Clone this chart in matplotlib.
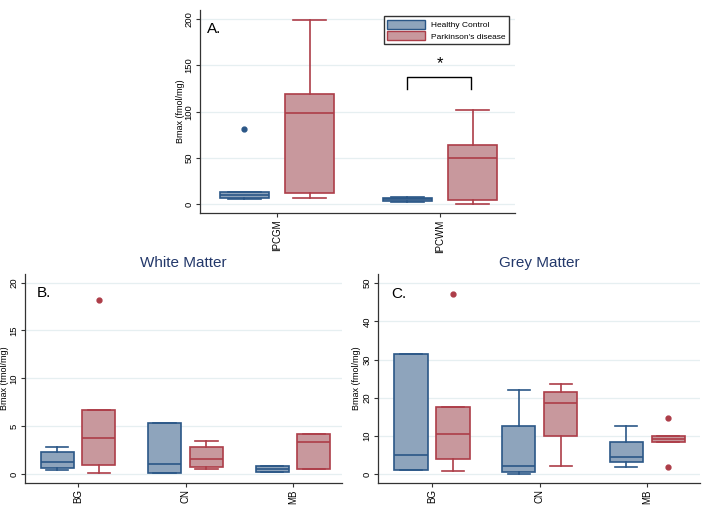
import matplotlib
matplotlib.use("Agg")
import matplotlib.pyplot as plt
from matplotlib.patches import Patch

plt.rcParams['font.family'] = ['Liberation Sans', 'DejaVu Sans']

# colours
hc_fill = '#8ea4bc'
hc_edge = '#2b5787'
pd_fill = '#c8989d'
pd_edge = '#ad3d48'
grid_c = '#e6eff1'

# panel A: IPC grey / white matter
a_cats = ['IPCGM', 'IPCWM']
a_hc_q1 = [6.8, 3.6]
a_hc_med = [9.7, 5.0]
a_hc_q3 = [13.3, 6.8]
a_hc_lo = [5.4, 1.8]
a_hc_hi = [13.3, 8.0]
a_hc_out = [[81], []]
a_pd_q1 = [12.3, 4.3]
a_pd_med = [98, 50]
a_pd_q3 = [119, 63.4]
a_pd_lo = [6.8, 0.4]
a_pd_hi = [199, 102]
a_pd_out = [[], []]

# panel B: white matter
b_cats = ['BG', 'CN', 'MB']
b_hc_q1 = [0.63, 0.14, 0.24]
b_hc_med = [1.22, 1.05, 0.52]
b_hc_q3 = [2.27, 5.3, 0.8]
b_hc_lo = [0.42, 0.14, 0.24]
b_hc_hi = [2.83, 5.3, 0.8]
b_hc_out = [[], [], []]
b_pd_q1 = [0.94, 0.77, 0.56]
b_pd_med = [3.73, 1.57, 3.35]
b_pd_q3 = [6.7, 2.8, 4.19]
b_pd_lo = [0.07, 0.56, 0.56]
b_pd_hi = [6.7, 3.5, 4.19]
b_pd_out = [[18.2], [], []]

# panel C: grey matter
c_cats = ['BG', 'CN', 'MB']
c_hc_q1 = [1.05, 0.44, 3.05]
c_hc_med = [5.0, 2.1, 4.4]
c_hc_q3 = [31.4, 12.6, 8.5]
c_hc_lo = [1.05, 0.0, 1.75]
c_hc_hi = [31.4, 22.0, 12.6]
c_hc_out = [[], [], []]
c_pd_q1 = [3.9, 9.9, 8.3]
c_pd_med = [10.5, 18.7, 9.25]
c_pd_q3 = [17.5, 21.5, 10.0]
c_pd_lo = [0.8, 2.0, 8.3]
c_pd_hi = [17.5, 23.5, 10.0]
c_pd_out = [[47.1], [], [14.7, 1.9]]


def stats(q1, med, q3, lo, hi, out):
    return [dict(q1=a, med=b, q3=c, whislo=d, whishi=e, fliers=f)
            for a, b, c, d, e, f in zip(q1, med, q3, lo, hi, out)]


def draw(ax, st, pos, fill, edge, w):
    ax.bxp(st, positions=pos, widths=w, capwidths=w * 0.67, patch_artist=True,
           boxprops=dict(facecolor=fill, edgecolor=edge, linewidth=1.2),
           medianprops=dict(color=edge, linewidth=1.2),
           whiskerprops=dict(color=edge, linewidth=1.2),
           capprops=dict(color=edge, linewidth=1.2),
           flierprops=dict(marker='o', markersize=3.5, markerfacecolor=edge,
                           markeredgecolor=edge))


def style(ax, cats, yticks, ylim, xlim, lab_x):
    ax.set_ylim(ylim)
    ax.set_xlim(xlim)
    ax.set_yticks(yticks)
    ax.set_yticklabels([str(t) for t in yticks], rotation=90, va='center', fontsize=6.8)
    ax.set_xticks(range(1, len(cats) + 1))
    ax.set_xticklabels(cats, rotation=90, fontsize=7)
    for t in yticks:
        ax.axhline(t, color=grid_c, lw=0.9, zorder=0)
    for s in ['top', 'right']:
        ax.spines[s].set_visible(False)
    for s in ['left', 'bottom']:
        ax.spines[s].set_color('#333333')
        ax.spines[s].set_linewidth(0.9)
    ax.tick_params(direction='out', length=3, width=0.8, color='#333333', pad=1.5)
    ax.set_ylabel('Bmax (fmol/mg)', fontsize=6.5)
    ax.yaxis.set_label_coords(lab_x, 0.5)


fig = plt.figure(figsize=(7.09, 5.15), dpi=100)

axA = fig.add_axes([0.2821, 0.5864, 0.4443, 0.3942])
axB = fig.add_axes([0.0353, 0.0621, 0.4471, 0.4058])
axC = fig.add_axes([0.5331, 0.0621, 0.4542, 0.4058])

off_a, w_a = 0.2, 0.3
pa = list(range(1, len(a_cats) + 1))
draw(axA, stats(a_hc_q1, a_hc_med, a_hc_q3, a_hc_lo, a_hc_hi, a_hc_out),
     [p - off_a for p in pa], hc_fill, hc_edge, w_a)
draw(axA, stats(a_pd_q1, a_pd_med, a_pd_q3, a_pd_lo, a_pd_hi, a_pd_out),
     [p + off_a for p in pa], pd_fill, pd_edge, w_a)
style(axA, a_cats, [0, 50, 100, 150, 200], (-9.7, 210), (0.528, 2.46), -0.048)
axA.text(0.57, 185, 'A.', fontsize=11)
# significance bracket
axA.plot([1.8, 1.8, 2.19, 2.19], [125, 138, 138, 125], color='black', lw=1)
axA.text(2.0, 152, '*', ha='center', va='center', fontsize=12)
axA.legend(handles=[Patch(facecolor=hc_fill, edgecolor=hc_edge, label='Healthy Control'),
                    Patch(facecolor=pd_fill, edgecolor=pd_edge, label="Parkinson's disease")],
           loc='upper right', bbox_to_anchor=(0.995, 0.99), fontsize=6, fancybox=False,
           edgecolor='#333333', framealpha=1, handlelength=4.5, handleheight=1.3,
           borderpad=0.4, labelspacing=0.3)

off_b, w_b = 0.195, 0.307
pb = list(range(1, len(b_cats) + 1))
draw(axB, stats(b_hc_q1, b_hc_med, b_hc_q3, b_hc_lo, b_hc_hi, b_hc_out),
     [p - off_b for p in pb], hc_fill, hc_edge, w_b)
draw(axB, stats(b_pd_q1, b_pd_med, b_pd_q3, b_pd_lo, b_pd_hi, b_pd_out),
     [p + off_b for p in pb], pd_fill, pd_edge, w_b)
style(axB, b_cats, [0, 5, 10, 15, 20], (-0.94, 20.9), (0.507, 3.456), -0.05)
axB.set_title('White Matter', color='#23386a', fontsize=11, pad=5)
axB.text(0.62, 18.5, 'B.', fontsize=11)

pc = list(range(1, len(c_cats) + 1))
draw(axC, stats(c_hc_q1, c_hc_med, c_hc_q3, c_hc_lo, c_hc_hi, c_hc_out),
     [p - off_b for p in pc], hc_fill, hc_edge, w_b)
draw(axC, stats(c_pd_q1, c_pd_med, c_pd_q3, c_pd_lo, c_pd_hi, c_pd_out),
     [p + off_b for p in pc], pd_fill, pd_edge, w_b)
style(axC, c_cats, [0, 10, 20, 30, 40, 50], (-2.36, 52.4), (0.498, 3.49), -0.053)
axC.set_title('Grey Matter', color='#23386a', fontsize=11, pad=5)
axC.text(0.62, 46.0, 'C.', fontsize=11)

fig.savefig('out.png', dpi=100)
